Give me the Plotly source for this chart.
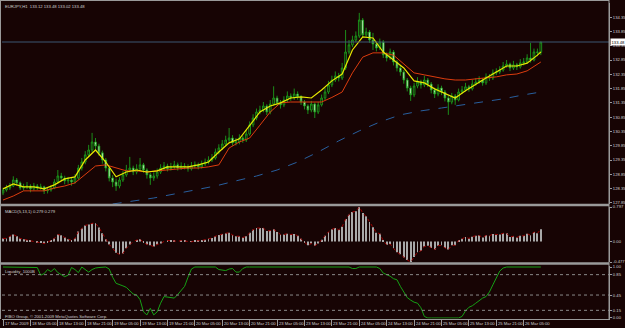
import plotly.graph_objects as go

# ---------------- data ----------------
bars = list(range(158))

opens = [128.20, 128.30, 128.37, 128.44, 128.65, 128.55, 128.37, 128.41, 128.44, 128.34,
         128.44, 128.37, 128.41, 128.27, 128.30, 128.37, 128.58, 128.79, 128.72, 128.62,
         128.65, 128.58, 128.72, 129.07, 129.28, 129.53, 129.70, 129.98, 129.84, 129.60,
         129.35, 129.07, 128.72, 128.58, 128.44, 128.65, 128.83, 129.00, 129.07, 128.93,
         129.04, 129.18, 129.00, 128.83, 128.72, 128.79, 128.93, 129.07, 129.14, 129.04,
         129.11, 129.18, 129.07, 129.14, 129.11, 129.04, 129.14, 129.18, 129.11, 129.21,
         129.28, 129.35, 129.42, 129.63, 129.77, 129.91, 130.05, 130.12, 129.95, 129.98,
         130.12, 130.05, 130.26, 130.58, 130.82, 131.03, 131.10, 131.24, 131.03, 131.31,
         131.52, 131.35, 131.28, 131.45, 131.59, 131.52, 131.66, 131.56, 131.38, 131.24,
         131.10, 131.31, 131.03, 131.28, 131.52, 131.73, 131.98, 132.15, 132.29, 132.22,
         132.57, 133.13, 133.38, 133.55, 133.69, 134.25, 133.73, 133.83, 133.55, 133.41,
         133.27, 133.48, 133.03, 132.92, 133.13, 132.78, 132.57, 132.43, 132.15, 131.87,
         131.63, 131.94, 132.08, 131.98, 132.15, 132.01, 131.80, 131.66, 131.87, 131.73,
         131.52, 131.38, 131.59, 131.45, 131.73, 131.80, 131.91, 131.84, 132.01, 132.08,
         132.15, 132.05, 132.26, 132.22, 132.40, 132.43, 132.50, 132.64, 132.71, 132.57,
         132.68, 132.61, 132.75, 132.78, 132.92, 132.85, 133.13, 133.12]

closes = [128.30, 128.37, 128.44, 128.65, 128.55, 128.37, 128.41, 128.44, 128.34, 128.44,
          128.37, 128.41, 128.27, 128.30, 128.37, 128.58, 128.79, 128.72, 128.62, 128.65,
          128.58, 128.72, 129.07, 129.28, 129.53, 129.70, 129.98, 129.84, 129.60, 129.35,
          129.07, 128.72, 128.58, 128.44, 128.65, 128.83, 129.00, 129.07, 128.93, 129.04,
          129.18, 129.00, 128.83, 128.72, 128.79, 128.93, 129.07, 129.14, 129.04, 129.11,
          129.18, 129.07, 129.14, 129.11, 129.04, 129.14, 129.18, 129.11, 129.21, 129.28,
          129.35, 129.42, 129.63, 129.77, 129.91, 130.05, 130.12, 129.95, 129.98, 130.12,
          130.05, 130.26, 130.58, 130.82, 131.03, 131.10, 131.24, 131.03, 131.31, 131.52,
          131.35, 131.28, 131.45, 131.59, 131.52, 131.66, 131.56, 131.38, 131.24, 131.10,
          131.31, 131.03, 131.28, 131.52, 131.73, 131.98, 132.15, 132.29, 132.22, 132.57,
          133.13, 133.38, 133.55, 133.69, 134.25, 133.73, 133.83, 133.55, 133.41, 133.27,
          133.48, 133.03, 132.92, 133.13, 132.78, 132.57, 132.43, 132.15, 131.87, 131.63,
          131.94, 132.08, 131.98, 132.15, 132.01, 131.80, 131.66, 131.87, 131.73, 131.52,
          131.38, 131.59, 131.45, 131.73, 131.80, 131.91, 131.84, 132.01, 132.08, 132.15,
          132.05, 132.26, 132.22, 132.40, 132.43, 132.50, 132.64, 132.71, 132.57, 132.68,
          132.61, 132.75, 132.78, 132.92, 132.85, 133.13, 133.12, 133.48]

highs = [128.38, 128.48, 128.55, 128.78, 128.72, 128.60, 128.52, 128.58, 128.50, 128.55,
         128.51, 128.52, 128.45, 128.40, 128.46, 128.68, 129.00, 128.90, 128.80, 128.76,
         128.72, 128.85, 129.18, 129.42, 129.66, 129.88, 130.30, 130.12, 129.92, 129.68,
         129.42, 129.12, 128.82, 128.70, 128.75, 128.96, 129.18, 129.46, 129.15, 129.20,
         129.42, 129.25, 129.06, 128.90, 128.92, 129.05, 129.20, 129.28, 129.22, 129.25,
         129.32, 129.26, 129.27, 129.24, 129.20, 129.28, 129.30, 129.26, 129.33, 129.40,
         129.48, 129.56, 129.75, 129.90, 130.05, 130.20, 130.47, 130.22, 130.12, 130.25,
         130.20, 130.40, 130.70, 130.95, 131.15, 131.25, 131.38, 131.30, 131.45, 131.93,
         131.60, 131.45, 131.58, 131.75, 131.68, 131.85, 131.75, 131.62, 131.45, 131.30,
         131.42, 131.36, 131.38, 131.64, 131.88, 132.12, 132.30, 132.45, 132.40, 132.75,
         133.90, 133.55, 133.70, 133.85, 134.50, 134.32, 133.98, 133.90, 133.80, 133.50,
         133.60, 133.55, 133.12, 133.25, 133.20, 132.85, 132.66, 132.50, 132.22, 131.95,
         132.05, 132.25, 132.16, 132.30, 132.22, 132.08, 131.88, 132.00, 131.95, 131.80,
         131.60, 131.70, 131.66, 131.85, 131.94, 132.05, 131.98, 132.15, 132.22, 132.28,
         132.22, 132.38, 132.36, 132.52, 132.56, 132.63, 132.78, 132.85, 132.76, 132.82,
         132.75, 132.88, 132.92, 133.05, 133.45, 133.25, 133.25, 133.48]

lows = [128.12, 128.24, 128.30, 128.40, 128.45, 128.30, 128.28, 128.33, 128.22, 128.28,
        128.30, 128.31, 128.16, 128.18, 128.24, 128.33, 128.52, 128.62, 128.50, 128.52,
        128.45, 128.52, 128.66, 128.98, 129.20, 129.45, 129.62, 129.72, 129.50, 129.22,
        128.95, 128.60, 128.40, 128.27, 128.36, 128.58, 128.76, 128.92, 128.82, 128.85,
        128.98, 128.90, 128.70, 128.48, 128.62, 128.70, 128.86, 129.00, 128.95, 128.98,
        129.04, 128.98, 129.00, 129.02, 128.94, 128.98, 129.06, 129.02, 129.05, 129.14,
        129.20, 129.28, 129.36, 129.55, 129.70, 129.85, 129.98, 129.85, 129.86, 129.90,
        129.95, 129.98, 130.20, 130.50, 130.74, 130.95, 131.02, 130.92, 130.95, 131.25,
        131.25, 131.15, 131.20, 131.38, 131.42, 131.45, 131.46, 131.28, 131.12, 130.96,
        131.02, 130.82, 130.96, 131.22, 131.45, 131.66, 131.90, 132.08, 132.10, 132.15,
        132.50, 133.05, 133.30, 133.48, 133.62, 133.62, 133.64, 133.45, 133.20, 133.15,
        133.20, 132.92, 132.80, 132.85, 132.66, 132.45, 132.30, 132.02, 131.75, 131.42,
        131.55, 131.86, 131.85, 131.90, 131.90, 131.68, 131.52, 131.58, 131.62, 131.40,
        130.93, 131.30, 131.28, 131.40, 131.66, 131.74, 131.74, 131.78, 131.95, 132.02,
        131.95, 131.98, 132.12, 132.15, 132.32, 132.36, 132.44, 132.58, 132.46, 132.50,
        132.50, 132.55, 132.66, 132.72, 132.76, 132.80, 132.98, 133.02]

ma_bars = list(range(0, 157, 3)) + [157]
ma_fast = [128.34, 128.51, 128.41, 128.41, 128.34, 128.48, 128.69, 128.76, 129.35, 129.70,
           129.28, 128.76, 128.93, 129.00, 128.93, 128.97, 129.11, 129.11, 129.11, 129.18,
           129.28, 129.63, 129.95, 130.09, 130.54, 131.03, 131.24, 131.35, 131.52, 131.56,
           131.52, 131.80, 132.12, 132.36, 133.20, 133.66, 133.62, 133.13, 132.85, 132.57,
           132.12, 132.05, 131.84, 131.69, 131.52, 131.77, 132.01, 132.22, 132.43, 132.64,
           132.64, 132.74, 133.02, 133.13]
ma_slow = [127.95, 128.09, 128.27, 128.27, 128.27, 128.37, 128.44, 128.55, 128.86, 129.14,
           129.18, 129.07, 128.97, 128.97, 128.93, 128.97, 129.00, 129.04, 129.07, 129.07,
           129.11, 129.18, 129.77, 129.98, 130.12, 130.57, 131.03, 131.35, 131.38, 131.38,
           131.38, 131.38, 131.54, 131.73, 132.40, 132.95, 133.10, 133.10, 133.02, 132.71,
           132.40, 132.33, 132.26, 132.19, 132.15, 132.15, 132.19, 132.22, 132.26, 132.33,
           132.36, 132.47, 132.71, 132.78]

ma_long_bars = [32, 38, 44, 50, 56, 62, 68, 74, 80, 86, 92, 98, 104, 110, 116, 122,
                128, 134, 140, 146, 152, 157]
ma_long = [127.81, 127.92, 128.02, 128.16, 128.30, 128.44, 128.62, 128.79, 129.00, 129.28,
           129.63, 130.02, 130.37, 130.68, 130.93, 131.07, 131.17, 131.27, 131.38, 131.49,
           131.63, 131.73]

macd = [0.07, 0.07, 0.12, 0.16, 0.12, 0.07, 0.05, 0.03, 0.02, 0.00,
        -0.02, -0.03, -0.05, -0.02, 0.02, 0.07, 0.16, 0.14, 0.09, 0.05,
        0.02, 0.07, 0.23, 0.30, 0.37, 0.39, 0.42, 0.42, 0.32, 0.19,
        0.05, -0.07, -0.16, -0.26, -0.30, -0.28, -0.16, -0.07, 0.00, 0.03,
        0.05, -0.02, -0.07, -0.09, -0.12, -0.07, -0.05, 0.00, 0.02, 0.02,
        0.01, 0.00, 0.02, 0.01, 0.00, -0.01, 0.01, 0.01, 0.02, 0.04,
        0.06, 0.08, 0.12, 0.15, 0.17, 0.19, 0.20, 0.15, 0.12, 0.12,
        0.09, 0.12, 0.20, 0.27, 0.31, 0.31, 0.31, 0.24, 0.25, 0.28,
        0.22, 0.16, 0.16, 0.18, 0.16, 0.17, 0.13, 0.06, -0.02, -0.09,
        -0.05, -0.10, -0.05, 0.04, 0.13, 0.22, 0.28, 0.31, 0.27, 0.34,
        0.52, 0.62, 0.68, 0.70, 0.797, 0.66, 0.58, 0.45, 0.33, 0.20,
        0.18, 0.02, -0.08, -0.06, -0.16, -0.25, -0.30, -0.37, -0.43, -0.477,
        -0.36, -0.25, -0.22, -0.12, -0.10, -0.15, -0.19, -0.10, -0.09, -0.15,
        -0.19, -0.09, -0.09, 0.02, 0.06, 0.10, 0.07, 0.11, 0.13, 0.14,
        0.09, 0.14, 0.13, 0.17, 0.16, 0.16, 0.19, 0.19, 0.10, 0.12,
        0.09, 0.13, 0.13, 0.18, 0.14, 0.22, 0.19, 0.279]

liquidity = [1.0, 1.0, 1.0, 1.0, 1.0, 1.0, 1.0, 1.0, 1.0, 1.0,
             0.99, 0.84, 0.87, 0.95, 0.91, 0.97, 0.89, 0.85, 0.81, 0.84,
             0.99, 0.95, 0.89, 1.0, 0.95, 0.90, 0.95, 0.98, 0.99, 1.0,
             1.0, 0.96, 0.80, 0.68, 0.66, 0.63, 0.60, 0.53, 0.47, 0.45,
             0.36, 0.12, 0.06, 0.19, 0.06, 0.12, 0.29, 0.42, 0.41, 0.40,
             0.39, 0.46, 0.54, 0.62, 0.80, 0.96, 1.0, 1.0, 1.0, 1.0,
             1.0, 1.0, 1.0, 0.95, 0.94, 0.93, 0.96, 0.97, 0.90, 0.90,
             0.97, 1.0, 1.0, 1.0, 1.0, 1.0, 1.0, 1.0, 1.0, 1.0,
             1.0, 1.0, 1.0, 1.0, 1.0, 1.0, 1.0, 1.0, 1.0, 1.0,
             1.0, 1.0, 1.0, 1.0, 1.0, 1.0, 1.0, 1.0, 1.0, 1.0,
             1.0, 1.0, 0.97, 0.97, 1.0, 1.0, 1.0, 1.0, 1.0, 1.0,
             0.97, 0.88, 0.85, 0.82, 0.77, 0.75, 0.62, 0.50, 0.40, 0.35,
             0.31, 0.29, 0.20, 0.03, 0.0, 0.0, 0.0, 0.0, 0.0, 0.0,
             0.0, 0.0, 0.0, 0.0, 0.03, 0.14, 0.21, 0.24, 0.29, 0.34,
             0.39, 0.42, 0.51, 0.65, 0.80, 0.92, 0.98, 1.0, 1.0, 1.0,
             1.0, 1.0, 1.0, 1.0, 1.0, 1.0, 1.0, 1.0]
liq_levels = [0.85, 0.45, 0.15]

time_label_bars = [0, 8, 16, 24, 32, 40, 48, 56, 64, 72, 80, 88, 96, 104, 112, 120, 128, 136, 144, 152]
time_labels = ["17 Mar 2009", "18 Mar 05:00", "18 Mar 13:00", "18 Mar 21:00", "19 Mar 05:00",
               "19 Mar 13:00", "19 Mar 21:00", "20 Mar 05:00", "20 Mar 13:00", "20 Mar 21:00",
               "23 Mar 05:00", "23 Mar 13:00", "23 Mar 21:00", "24 Mar 05:00", "24 Mar 13:00",
               "24 Mar 21:00", "25 Mar 05:00", "25 Mar 13:00", "25 Mar 21:00", "26 Mar 05:00"]

price_ticks = [127.85, 128.35, 128.85, 129.35, 129.85, 130.35, 130.85, 131.35, 131.85,
               132.35, 132.85, 133.35, 133.85, 134.35, 134.85]
macd_ticks = [0.797, 0.0, -0.477]
macd_tick_text = ["0.797", "0.00", "-0.477"]
liq_ticks = [1.0, 0.85, 0.45, 0.15, 0.0]
liq_tick_text = ["1.00", "0.85", "0.45", "0.15", "0.00"]
last_price = 133.48
title_text = "EURJPY,H1  133.12 133.48 133.02 133.48"
macd_title = "MACD(5,13,1) 0.279 0.279"
liq_title = "Liquidity_1000B"
copyright_text = "FIBO Group, \u00a9 2001-2009 MetaQuotes Software Corp."

# ---------------- style ----------------
W, H = 625, 328
BG = "#170404"
FRAME = "#9a9a9a"
TXT = "#cfcfcf"
GREEN = "#1c9c1c"
FONT = "Liberation Sans, Arial, sans-serif"
FS = 4.2


def py(y):
    return 1 - y / H


XD = [2 / W, 609 / W]

fig = go.Figure()
fig.add_trace(go.Candlestick(
    x=bars, open=opens, high=highs, low=lows, close=closes,
    increasing=dict(line=dict(color=GREEN, width=0.9), fillcolor=BG),
    decreasing=dict(line=dict(color=GREEN, width=0.9), fillcolor="#dcf8d4"),
    whiskerwidth=0, xaxis="x", yaxis="y", hoverinfo="skip", showlegend=False))
fig.add_trace(go.Scatter(x=ma_bars, y=ma_slow, mode="lines",
                         line=dict(color="#dc3c0e", width=1), xaxis="x", yaxis="y",
                         showlegend=False, hoverinfo="skip"))
fig.add_trace(go.Scatter(x=ma_bars, y=ma_fast, mode="lines",
                         line=dict(color="#e8e800", width=1.2), xaxis="x", yaxis="y",
                         showlegend=False, hoverinfo="skip"))
fig.add_trace(go.Scatter(x=ma_long_bars, y=ma_long, mode="lines",
                         line=dict(color="#285f9e", width=1, dash="dash"), xaxis="x", yaxis="y",
                         showlegend=False, hoverinfo="skip"))
fig.add_trace(go.Bar(x=bars, y=macd, width=0.26,
                     marker=dict(color="#a9a9a9", line=dict(width=0)),
                     xaxis="x2", yaxis="y2", showlegend=False, hoverinfo="skip"))
fig.add_trace(go.Scatter(x=bars, y=macd, mode="lines",
                         line=dict(color="#a00000", width=1, dash="dot"),
                         xaxis="x2", yaxis="y2", showlegend=False, hoverinfo="skip"))
fig.add_trace(go.Scatter(x=bars, y=liquidity, mode="lines",
                         line=dict(color="#16a016", width=1),
                         xaxis="x3", yaxis="y3", showlegend=False, hoverinfo="skip"))

shapes = []
# bid line
shapes.append(dict(type="line", xref="paper", yref="y", x0=XD[0], x1=XD[1],
                   y0=last_price, y1=last_price, line=dict(color="#3c5672", width=1)))
# indicator levels
for lv in liq_levels:
    shapes.append(dict(type="line", xref="paper", yref="y3", x0=XD[0], x1=XD[1],
                       y0=lv, y1=lv, line=dict(color="#8a8a8a", width=1, dash="dot")))
# window frame / separators
for yy, w in [(0.5, 1), (205, 2.5), (263.5, 2.5)]:
    shapes.append(dict(type="line", xref="paper", yref="paper", x0=0, x1=XD[1],
                       y0=py(yy), y1=py(yy), line=dict(color=FRAME, width=w)))
shapes.append(dict(type="line", xref="paper", yref="paper", x0=0.5 / W, x1=0.5 / W,
                   y0=py(319), y1=1, line=dict(color=FRAME, width=1)))
shapes.append(dict(type="line", xref="paper", yref="paper", x0=XD[1], x1=XD[1],
                   y0=py(320), y1=1, line=dict(color=FRAME, width=1)))

axis_common = dict(showgrid=False, zeroline=False, fixedrange=True)
ytick_common = dict(side="right", ticks="outside", ticklen=2, tickcolor=FRAME,
                    showline=True, linecolor=FRAME, linewidth=1,
                    tickfont=dict(family=FONT, size=FS, color=TXT), automargin=False)

fig.update_layout(
    width=W, height=H, margin=dict(l=0, r=0, t=0, b=0),
    paper_bgcolor=BG, plot_bgcolor=BG, hovermode=False, showlegend=False,
    xaxis=dict(domain=XD, range=[-0.3, 176.9], anchor="y", showticklabels=False,
               rangeslider=dict(visible=False), **axis_common),
    xaxis2=dict(domain=XD, matches="x", anchor="y2", showticklabels=False, **axis_common),
    xaxis3=dict(domain=XD, matches="x", anchor="y3", tickmode="array",
                tickvals=time_label_bars, showticklabels=False, ticks="outside", ticklen=6,
                tickcolor=FRAME, showline=True, linecolor=FRAME, linewidth=1,
                automargin=False, **axis_common),
    yaxis=dict(domain=[py(204), py(3)], range=[127.81, 134.845], anchor="x",
               tickmode="array", tickvals=price_ticks,
               ticktext=[f"{v:.2f}" for v in price_ticks], **ytick_common, **axis_common),
    yaxis2=dict(domain=[py(262), py(207)], range=[-0.477, 0.797], anchor="x2",
                tickmode="array", tickvals=macd_ticks, ticktext=macd_tick_text,
                **ytick_common, **axis_common),
    yaxis3=dict(domain=[py(318.5), py(266)], range=[-0.01, 1.0196], anchor="x3",
                tickmode="array", tickvals=liq_ticks, ticktext=liq_tick_text,
                **ytick_common, **axis_common),
    shapes=shapes,
)

ann_font = dict(family=FONT, size=FS, color=TXT)
anns = [
    dict(text=title_text, x=3 / W, y=py(2.5)),
    dict(text=macd_title, x=3 / W, y=py(207.5)),
    dict(text=liq_title, x=3 / W, y=py(266.5)),
    dict(text=copyright_text, x=3 / W, y=py(311.5)),
]
for a in anns:
    fig.add_annotation(xref="paper", yref="paper", xanchor="left", yanchor="top",
                       showarrow=False, font=ann_font, **a)
# time-axis labels (MetaTrader style: text to the right of each tick)
for b, lab in zip(time_label_bars, time_labels):
    fig.add_annotation(xref="x3", yref="paper", x=b, y=py(319.5), xanchor="left",
                       yanchor="top", xshift=0.5, text=lab, showarrow=False,
                       borderpad=0, font=ann_font)
fig.add_annotation(xref="paper", yref="y", x=610 / W, y=last_price, xanchor="left",
                   yanchor="middle", text=f"{last_price:.2f}", showarrow=False,
                   bgcolor="#ffffff", borderpad=0.5,
                   font=dict(family=FONT, size=FS, color="#000000"))

fig.write_html("out.html")
